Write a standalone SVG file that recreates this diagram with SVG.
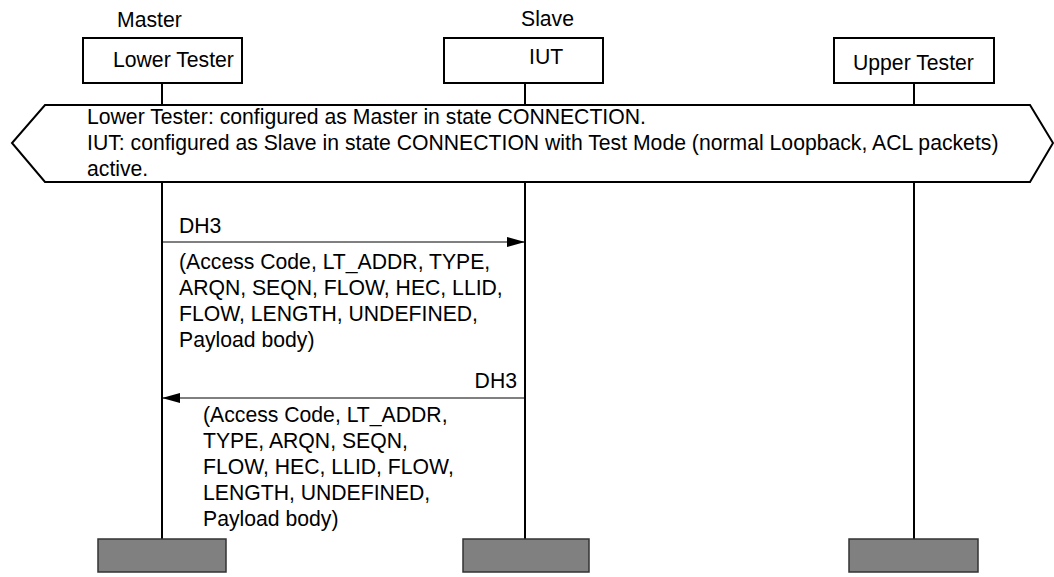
<svg xmlns="http://www.w3.org/2000/svg" width="1054" height="577" viewBox="0 0 1054 577">
<defs>
<style>
text{font-family:"Liberation Sans",Arial,sans-serif;font-size:21.2px;fill:#000}
.box{fill:#fff;stroke:#000;stroke-width:2}
.life{stroke:#000;stroke-width:2;fill:none}
.end{fill:#808080;stroke:#333;stroke-width:1.5}
.msg{stroke:#000;stroke-width:1;fill:none}
</style>
<marker id="ah" markerWidth="18" markerHeight="10" refX="18" refY="5" orient="auto" markerUnits="userSpaceOnUse">
<path d="M0,0 L18,5 L0,10 Z" fill="#000"/>
</marker>
</defs>
<rect width="1054" height="577" fill="#fff"/>
<g id="lifelines">
<line class="life" x1="162" y1="83" x2="162" y2="539"/>
<line class="life" x1="525" y1="83" x2="525" y2="539"/>
<line class="life" x1="914" y1="83" x2="914" y2="539"/>
</g>
<g id="lowerTester">
<text x="117" y="27">Master</text>
<rect class="box" x="83" y="38" width="159" height="45"/>
<text x="113" y="67">Lower Tester</text>
<rect class="end" x="98" y="539" width="128" height="33"/>
</g>
<g id="iut">
<text x="521" y="26">Slave</text>
<rect class="box" x="444" y="38" width="159" height="45"/>
<text x="529" y="64">IUT</text>
<rect class="end" x="463" y="539" width="126" height="33"/>
</g>
<g id="upperTester">
<rect class="box" x="834" y="38" width="160" height="45"/>
<text x="853" y="70">Upper Tester</text>
<rect class="end" x="849" y="539" width="129" height="33"/>
</g>
<g id="condition">
<path d="M45,105 L1030,105 L1053,143 L1030,182 L45,182 L12,143 Z" fill="#fff" stroke="#000" stroke-width="2"/>
<text x="87" y="124">Lower Tester: configured as Master in state CONNECTION.</text>
<text x="87" y="150">IUT: configured as Slave in state CONNECTION with Test Mode (normal Loopback, ACL packets)</text>
<text x="87" y="176">active.</text>
</g>
<g id="connectors">
<g id="msg1">
<line class="msg" x1="162" y1="242" x2="525" y2="242" marker-end="url(#ah)"/>
<text x="179" y="233">DH3</text>
<text x="179" y="269">(Access Code, LT_ADDR, TYPE,</text>
<text x="179" y="295">ARQN, SEQN, FLOW, HEC, LLID,</text>
<text x="179" y="321">FLOW, LENGTH, UNDEFINED,</text>
<text x="179" y="347">Payload body)</text>
</g>
<g id="msg2">
<line class="msg" x1="525" y1="398" x2="162" y2="398" marker-end="url(#ah)"/>
<text x="517" y="388" text-anchor="end">DH3</text>
<text x="203" y="422">(Access Code, LT_ADDR,</text>
<text x="203" y="448">TYPE, ARQN, SEQN,</text>
<text x="203" y="474">FLOW, HEC, LLID, FLOW,</text>
<text x="203" y="500">LENGTH, UNDEFINED,</text>
<text x="203" y="526">Payload body)</text>
</g>
</g>
</svg>
